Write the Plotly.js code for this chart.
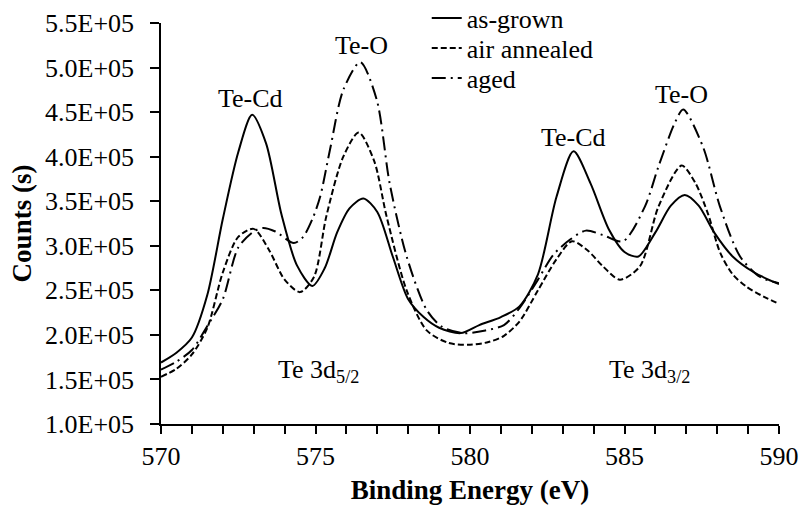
<!DOCTYPE html>
<html>
<head>
<meta charset="utf-8">
<script src="https://cdn.plot.ly/plotly-3.0.1.min.js"></script>
<style>html,body{margin:0;padding:0;background:#fff;}</style>
</head>
<body>
<div id="chart" style="width:802px;height:506px;"></div>
<script>
// Binding energy (eV) and counts
const asGrownX = [570, 570.5, 571, 571.5, 572, 572.5, 572.95, 573.4, 573.9, 574.4, 574.9, 575.3, 575.7, 576.1, 576.55, 577, 577.5, 578, 578.5, 579, 579.7, 580.3, 581, 581.6, 582.2, 582.8, 583.35, 583.9, 584.5, 585, 585.45, 586, 586.5, 586.95, 587.4, 587.9, 588.5, 589.2, 590];
const asGrownY = [1.69e5, 1.80e5, 1.97e5, 2.45e5, 3.30e5, 4.05e5, 4.47e5, 4.15e5, 3.35e5, 2.78e5, 2.55e5, 2.75e5, 3.15e5, 3.42e5, 3.53e5, 3.38e5, 2.88e5, 2.40e5, 2.20e5, 2.08e5, 2.02e5, 2.11e5, 2.20e5, 2.32e5, 2.68e5, 3.55e5, 4.06e5, 3.70e5, 3.18e5, 2.93e5, 2.88e5, 3.15e5, 3.45e5, 3.57e5, 3.45e5, 3.15e5, 2.88e5, 2.70e5, 2.57e5];

const airAnnealedX = [570, 570.5, 571, 571.5, 572, 572.5, 573.0, 573.5, 574, 574.5, 574.95, 575.35, 575.9, 576.4, 576.9, 577.3, 577.95, 578.6, 579.3, 580, 580.6, 581.1, 581.6, 582.2, 582.8, 583.3, 583.8, 584.3, 584.85, 585.5, 586.1, 586.85, 587.3, 587.7, 588.1, 588.5, 588.95, 589.5, 590];
const airAnnealedY = [1.53e5, 1.62e5, 1.78e5, 2.08e5, 2.70e5, 3.10e5, 3.19e5, 2.95e5, 2.62e5, 2.48e5, 2.65e5, 3.33e5, 4.00e5, 4.27e5, 3.95e5, 3.33e5, 2.50e5, 2.05e5, 1.91e5, 1.89e5, 1.92e5, 1.99e5, 2.15e5, 2.50e5, 2.85e5, 3.05e5, 2.95e5, 2.77e5, 2.62e5, 2.77e5, 3.44e5, 3.90e5, 3.70e5, 3.36e5, 2.92e5, 2.68e5, 2.54e5, 2.43e5, 2.35e5];

const agedX = [570, 570.5, 571, 571.5, 572.0, 572.5, 573.0, 573.3, 573.7, 574.3, 574.6, 574.9, 575.15, 575.47, 575.9, 576.45, 576.98, 577.4, 577.95, 578.6, 579.1, 579.8, 580.5, 581.1, 581.6, 582.2, 582.7, 583.24, 583.75, 584.3, 584.95, 585.66, 586.1, 586.63, 586.9, 587.54, 588.09, 588.74, 589.39, 590];
const agedY = [1.61e5, 1.70e5, 1.83e5, 2.10e5, 2.40e5, 2.98e5, 3.16e5, 3.20e5, 3.16e5, 3.03e5, 3.10e5, 3.30e5, 3.55e5, 4.08e5, 4.75e5, 5.06e5, 4.64e5, 3.70e5, 2.88e5, 2.28e5, 2.09e5, 2.02e5, 2.05e5, 2.11e5, 2.30e5, 2.62e5, 2.90e5, 3.07e5, 3.17e5, 3.12e5, 3.05e5, 3.44e5, 3.89e5, 4.38e5, 4.53e5, 4.11e5, 3.44e5, 2.88e5, 2.65e5, 2.58e5];

const seriesNames = ["as-grown", "air annealed", "aged"];
const yTickVals = [1.0e5, 1.5e5, 2.0e5, 2.5e5, 3.0e5, 3.5e5, 4.0e5, 4.5e5, 5.0e5, 5.5e5];
const yTickText = ["1.0E+05", "1.5E+05", "2.0E+05", "2.5E+05", "3.0E+05", "3.5E+05", "4.0E+05", "4.5E+05", "5.0E+05", "5.5E+05"];

const common = {mode: "lines", type: "scatter", line: {color: "#000", width: 2, shape: "spline", smoothing: 0.8}};

const traces = [
  Object.assign({}, common, {x: asGrownX, y: asGrownY, name: seriesNames[0], legend: "legend", line: Object.assign({}, common.line, {dash: "solid"})}),
  Object.assign({}, common, {x: airAnnealedX, y: airAnnealedY, name: seriesNames[1], legend: "legend2", line: Object.assign({}, common.line, {dash: "6px,3px"})}),
  Object.assign({}, common, {x: agedX, y: agedY, name: seriesNames[2], legend: "legend3", line: Object.assign({}, common.line, {dash: "14px,5px,2px,5px"})})
];

function legendAt(y) {
  return {x: 0.43, y: y, xanchor: "left", yanchor: "middle", bgcolor: "rgba(0,0,0,0)", font: {size: 26}};
}

const layout = {
  width: 802, height: 506,
  margin: {l: 161, r: 23, t: 23, b: 82, pad: 0, autoexpand: false},
  paper_bgcolor: "#fff", plot_bgcolor: "#fff",
  font: {family: "Liberation Serif", size: 26, color: "#000"},
  showlegend: true,
  legend: legendAt(1.0125),
  legend2: legendAt(0.9377),
  legend3: legendAt(0.8628),
  xaxis: {
    range: [570, 590], dtick: 5, tick0: 570, ticks: "outside", ticklen: 8, tickwidth: 1.5, tickcolor: "#000",
    showline: true, linecolor: "#000", linewidth: 1.5, showgrid: false, zeroline: false,
    minor: {dtick: 1, ticks: "outside", ticklen: 8, tickwidth: 1.5, tickcolor: "#000", showgrid: false},
    title: {text: "<b>Binding Energy (eV)</b>", font: {size: 27}, standoff: 10}
  },
  yaxis: {
    range: [1.0e5, 5.5e5], tickvals: yTickVals, ticktext: yTickText, ticks: "outside", ticklen: 9, tickwidth: 1.5, tickcolor: "#000",
    ticklabelstandoff: 11,
    showline: true, linecolor: "#000", linewidth: 1.5, showgrid: false, zeroline: false,
    title: {text: "<b>Counts (s)</b>", font: {size: 27}, standoff: 6}
  },
  annotations: [
    {x: 572.9, y: 4.65e5, text: "Te-Cd", showarrow: false},
    {x: 576.5, y: 5.25e5, text: "Te-O", showarrow: false},
    {x: 583.34, y: 4.22e5, text: "Te-Cd", showarrow: false},
    {x: 586.86, y: 4.70e5, text: "Te-O", showarrow: false},
    {x: 575.1, y: 1.60e5, text: "Te 3d<sub>5/2</sub>", showarrow: false},
    {x: 585.8, y: 1.60e5, text: "Te 3d<sub>3/2</sub>", showarrow: false}
  ]
};

Plotly.newPlot("chart", traces, layout, {displayModeBar: false});
</script>
</body>
</html>
